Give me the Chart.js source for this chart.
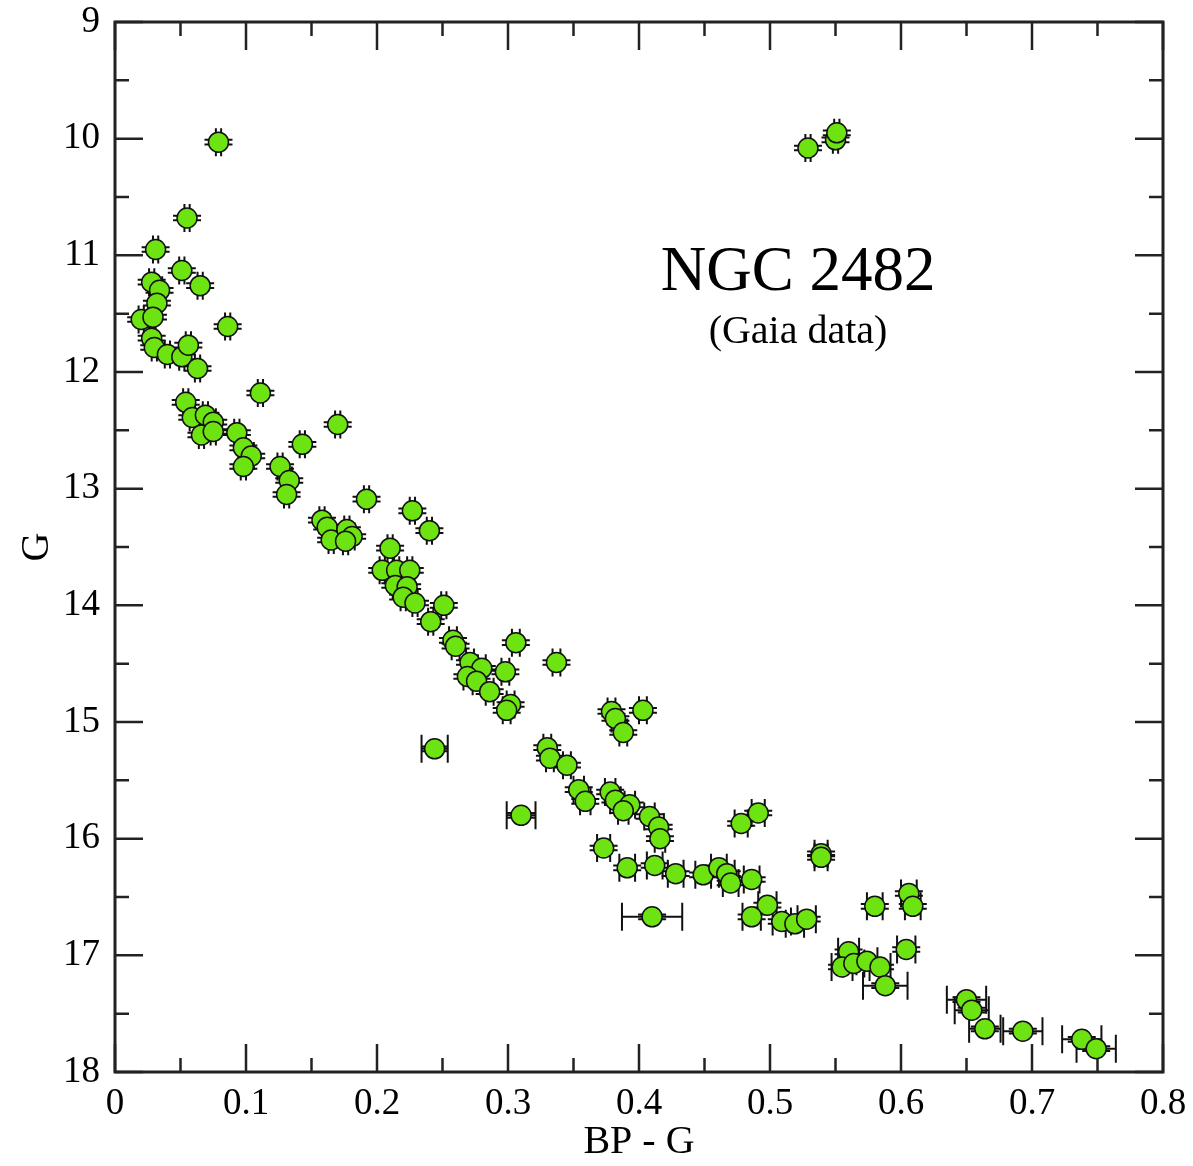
<!DOCTYPE html>
<html>
<head>
<meta charset="utf-8">
<script src="https://cdn.jsdelivr.net/npm/chart.js@4.4.1/dist/chart.umd.min.js"></script>
<style>
  html, body { margin: 0; padding: 0; background: #fff; }
  #wrap { width: 1193px; height: 1166px; }
</style>
</head>
<body>
<div id="wrap"><canvas id="cmd"></canvas></div>
<script>
// NGC 2482 colour-magnitude diagram (Gaia data)

// colour index BP - G for each star
var bpG = [
    0.079, 0.529, 0.550, 0.551, 0.055, 0.031, 0.051, 0.065, 0.028, 0.034,
    0.032, 0.020, 0.029, 0.086, 0.028, 0.030, 0.040, 0.051, 0.056, 0.063,
    0.111, 0.054, 0.059, 0.069, 0.075, 0.066, 0.075, 0.093, 0.098, 0.104,
    0.098, 0.143, 0.170, 0.126, 0.133, 0.131, 0.192, 0.158, 0.162, 0.165,
    0.177, 0.181, 0.176, 0.227, 0.240, 0.210, 0.204, 0.215, 0.225, 0.214,
    0.223, 0.220, 0.229, 0.251, 0.241, 0.258, 0.260, 0.271, 0.280, 0.269,
    0.276, 0.286, 0.298, 0.306, 0.337, 0.302, 0.299, 0.244, 0.379, 0.382,
    0.388, 0.403, 0.330, 0.332, 0.345, 0.354, 0.359, 0.378, 0.382, 0.393,
    0.388, 0.408, 0.415, 0.416, 0.310, 0.373, 0.391, 0.412, 0.428, 0.449,
    0.461, 0.467, 0.470, 0.486, 0.478, 0.491, 0.539, 0.539, 0.410, 0.498,
    0.486, 0.509, 0.519, 0.528, 0.580, 0.606, 0.609, 0.604, 0.560, 0.555,
    0.564, 0.574, 0.584, 0.588, 0.650, 0.654, 0.664, 0.693, 0.738, 0.749
];

// G magnitude for each star
var gMag = [
    10.03, 10.08, 10.01, 9.95, 10.68, 10.95, 11.13, 11.26, 11.23, 11.30,
    11.41, 11.55, 11.53, 11.61, 11.71, 11.79, 11.85, 11.87, 11.77, 11.97,
    12.18, 12.26, 12.39, 12.37, 12.43, 12.54, 12.51, 12.52, 12.65, 12.72,
    12.81, 12.62, 12.45, 12.81, 12.93, 13.05, 13.09, 13.27, 13.33, 13.44,
    13.35, 13.41, 13.45, 13.19, 13.36, 13.51, 13.70, 13.70, 13.70, 13.83,
    13.84, 13.93, 13.98, 14.00, 14.14, 14.30, 14.35, 14.49, 14.54, 14.61,
    14.65, 14.74, 14.57, 14.32, 14.49, 14.85, 14.90, 15.23, 14.91, 14.97,
    15.09, 14.90, 15.22, 15.31, 15.37, 15.58, 15.68, 15.60, 15.67, 15.71,
    15.76, 15.81, 15.90, 16.00, 15.80, 16.08, 16.25, 16.23, 16.30, 16.31,
    16.25, 16.30, 16.38, 16.35, 15.87, 15.78, 16.13, 16.16, 16.67, 16.57,
    16.67, 16.71, 16.73, 16.69, 16.58, 16.47, 16.58, 16.95, 16.97, 17.10,
    17.07, 17.05, 17.10, 17.26, 17.38, 17.47, 17.63, 17.65, 17.72, 17.80
];

// half error on BP - G
var xErr = [
    0.002, 0.002, 0.002, 0.002, 0.002, 0.002, 0.002, 0.002, 0.002, 0.002,
    0.002, 0.002, 0.002, 0.002, 0.002, 0.002, 0.002, 0.002, 0.002, 0.002,
    0.002, 0.002, 0.002, 0.002, 0.002, 0.002, 0.002, 0.002, 0.002, 0.002,
    0.002, 0.002, 0.002, 0.002, 0.002, 0.002, 0.002, 0.002, 0.002, 0.002,
    0.002, 0.002, 0.002, 0.002, 0.002, 0.002, 0.002, 0.002, 0.002, 0.002,
    0.002, 0.002, 0.002, 0.002, 0.002, 0.003, 0.003, 0.003, 0.003, 0.003,
    0.003, 0.003, 0.003, 0.003, 0.003, 0.003, 0.003, 0.010, 0.003, 0.003,
    0.003, 0.003, 0.003, 0.003, 0.003, 0.004, 0.004, 0.004, 0.004, 0.004,
    0.004, 0.004, 0.004, 0.004, 0.011, 0.005, 0.006, 0.006, 0.006, 0.006,
    0.006, 0.006, 0.006, 0.006, 0.005, 0.005, 0.005, 0.005, 0.023, 0.007,
    0.007, 0.007, 0.007, 0.007, 0.006, 0.006, 0.006, 0.007, 0.008, 0.008,
    0.008, 0.008, 0.008, 0.017, 0.015, 0.013, 0.012, 0.015, 0.015, 0.015
];

// half error on G (tiny, hidden mostly behind the symbols)
var yErr = bpG.map(function () { return 0.02; });

// axis ticks
var xTicks = [0, 0.1, 0.2, 0.3, 0.4, 0.5, 0.6, 0.7, 0.8];
var xMinor = [0.05, 0.15, 0.25, 0.35, 0.45, 0.55, 0.65, 0.75];
var yTicks = [9, 10, 11, 12, 13, 14, 15, 16, 17, 18];
var yMinor = [9.5, 10.5, 11.5, 12.5, 13.5, 14.5, 15.5, 16.5, 17.5];

var serif = "'Liberation Serif', 'Times New Roman', serif";

var stars = bpG.map(function (x, i) {
    return { x: x, y: gMag[i], xe: xErr[i], ye: yErr[i] };
});

// error bars with caps, drawn under the symbols
var errorBars = {
    id: "errorBars",
    beforeDatasetsDraw: function (chart) {
        var ctx = chart.ctx;
        var xs = chart.scales.x, ys = chart.scales.y;
        var cap = 14;
        ctx.save();
        ctx.strokeStyle = "#111";
        ctx.lineWidth = 2;
        stars.forEach(function (s) {
            var px = xs.getPixelForValue(s.x), py = ys.getPixelForValue(s.y);
            var x0 = xs.getPixelForValue(s.x - s.xe), x1 = xs.getPixelForValue(s.x + s.xe);
            var y0 = ys.getPixelForValue(s.y - s.ye), y1 = ys.getPixelForValue(s.y + s.ye);
            ctx.beginPath();
            ctx.moveTo(x0, py); ctx.lineTo(x1, py);
            ctx.moveTo(x0, py - cap); ctx.lineTo(x0, py + cap);
            ctx.moveTo(x1, py - cap); ctx.lineTo(x1, py + cap);
            ctx.moveTo(px, y0); ctx.lineTo(px, y1);
            ctx.moveTo(px - cap, y0); ctx.lineTo(px + cap, y0);
            ctx.moveTo(px - cap, y1); ctx.lineTo(px + cap, y1);
            ctx.stroke();
        });
        ctx.restore();
    }
};

// box frame with inward ticks on all four sides, plus the title text
var frame = {
    id: "frame",
    afterDraw: function (chart) {
        var ctx = chart.ctx;
        var a = chart.chartArea;
        var xs = chart.scales.x, ys = chart.scales.y;
        ctx.save();
        ctx.strokeStyle = "#222";
        ctx.lineWidth = 2.5;
        ctx.beginPath();
        function xt(v, len) {
            var p = xs.getPixelForValue(v);
            ctx.moveTo(p, a.bottom); ctx.lineTo(p, a.bottom - len);
            ctx.moveTo(p, a.top); ctx.lineTo(p, a.top + len);
        }
        function yt(v, len) {
            var p = ys.getPixelForValue(v);
            ctx.moveTo(a.left, p); ctx.lineTo(a.left + len, p);
            ctx.moveTo(a.right, p); ctx.lineTo(a.right - len, p);
        }
        xTicks.forEach(function (v) { xt(v, 28); });
        xMinor.forEach(function (v) { xt(v, 14); });
        yTicks.forEach(function (v) { yt(v, 28); });
        yMinor.forEach(function (v) { yt(v, 14); });
        ctx.stroke();
        ctx.lineWidth = 3;
        ctx.strokeRect(a.left, a.top, a.right - a.left, a.bottom - a.top);

        ctx.fillStyle = "#000";
        ctx.textAlign = "center";
        ctx.textBaseline = "alphabetic";
        ctx.font = "63px " + serif;
        ctx.fillText("NGC 2482", xs.getPixelForValue(0.5214), ys.getPixelForValue(11.30));
        ctx.font = "40px " + serif;
        ctx.fillText("(Gaia data)", xs.getPixelForValue(0.5214), ys.getPixelForValue(11.75));
        ctx.restore();
    }
};

var ctx = document.getElementById("cmd").getContext("2d");
var cmdChart = new Chart(ctx, {
    type: "scatter",
    data: {
        datasets: [{
            data: stars,
            pointRadius: 10,
            pointHoverRadius: 10,
            backgroundColor: "#6ee312",
            borderColor: "#111",
            borderWidth: 1.5,
        }],
    },
    options: {
        responsive: true,
        maintainAspectRatio: false,
        animation: false,
        layout: { padding: { top: 22, right: 30, left: 0, bottom: 0 } },
        plugins: {
            legend: { display: false },
            tooltip: { enabled: false },
        },
        scales: {
            x: {
                type: "linear",
                min: 0,
                max: 0.8,
                grid: { display: false, drawTicks: false },
                border: { display: false },
                afterBuildTicks: function (s) {
                    s.ticks = xTicks.map(function (v) { return { value: v }; });
                },
                afterFit: function (s) {
                    s.height = 94;
                    s.paddingLeft = 0;
                    s.paddingRight = 0;
                },
                ticks: {
                    padding: 10,
                    color: "#000",
                    font: { family: serif, size: 37 },
                    maxRotation: 0,
                    callback: function (v) { return v === 0 ? "0" : v.toFixed(1); },
                },
                title: {
                    display: true,
                    text: "BP - G",
                    color: "#000",
                    font: { family: serif, size: 40 },
                    padding: { top: 0, bottom: 0 },
                },
            },
            y: {
                type: "linear",
                reverse: true,
                min: 9,
                max: 18,
                grid: { display: false, drawTicks: false },
                border: { display: false },
                afterBuildTicks: function (s) {
                    s.ticks = yTicks.map(function (v) { return { value: v }; });
                },
                afterFit: function (s) {
                    s.width = 115;
                    s.paddingTop = 0;
                    s.paddingBottom = 0;
                },
                ticks: {
                    padding: 15,
                    color: "#000",
                    font: { family: serif, size: 37 },
                    callback: function (v) { return String(v); },
                },
                title: {
                    display: true,
                    text: "G",
                    color: "#000",
                    font: { family: serif, size: 40 },
                    padding: { top: 13, bottom: 0 },
                },
            },
        },
    },
    plugins: [errorBars, frame],
});
</script>
</body>
</html>
